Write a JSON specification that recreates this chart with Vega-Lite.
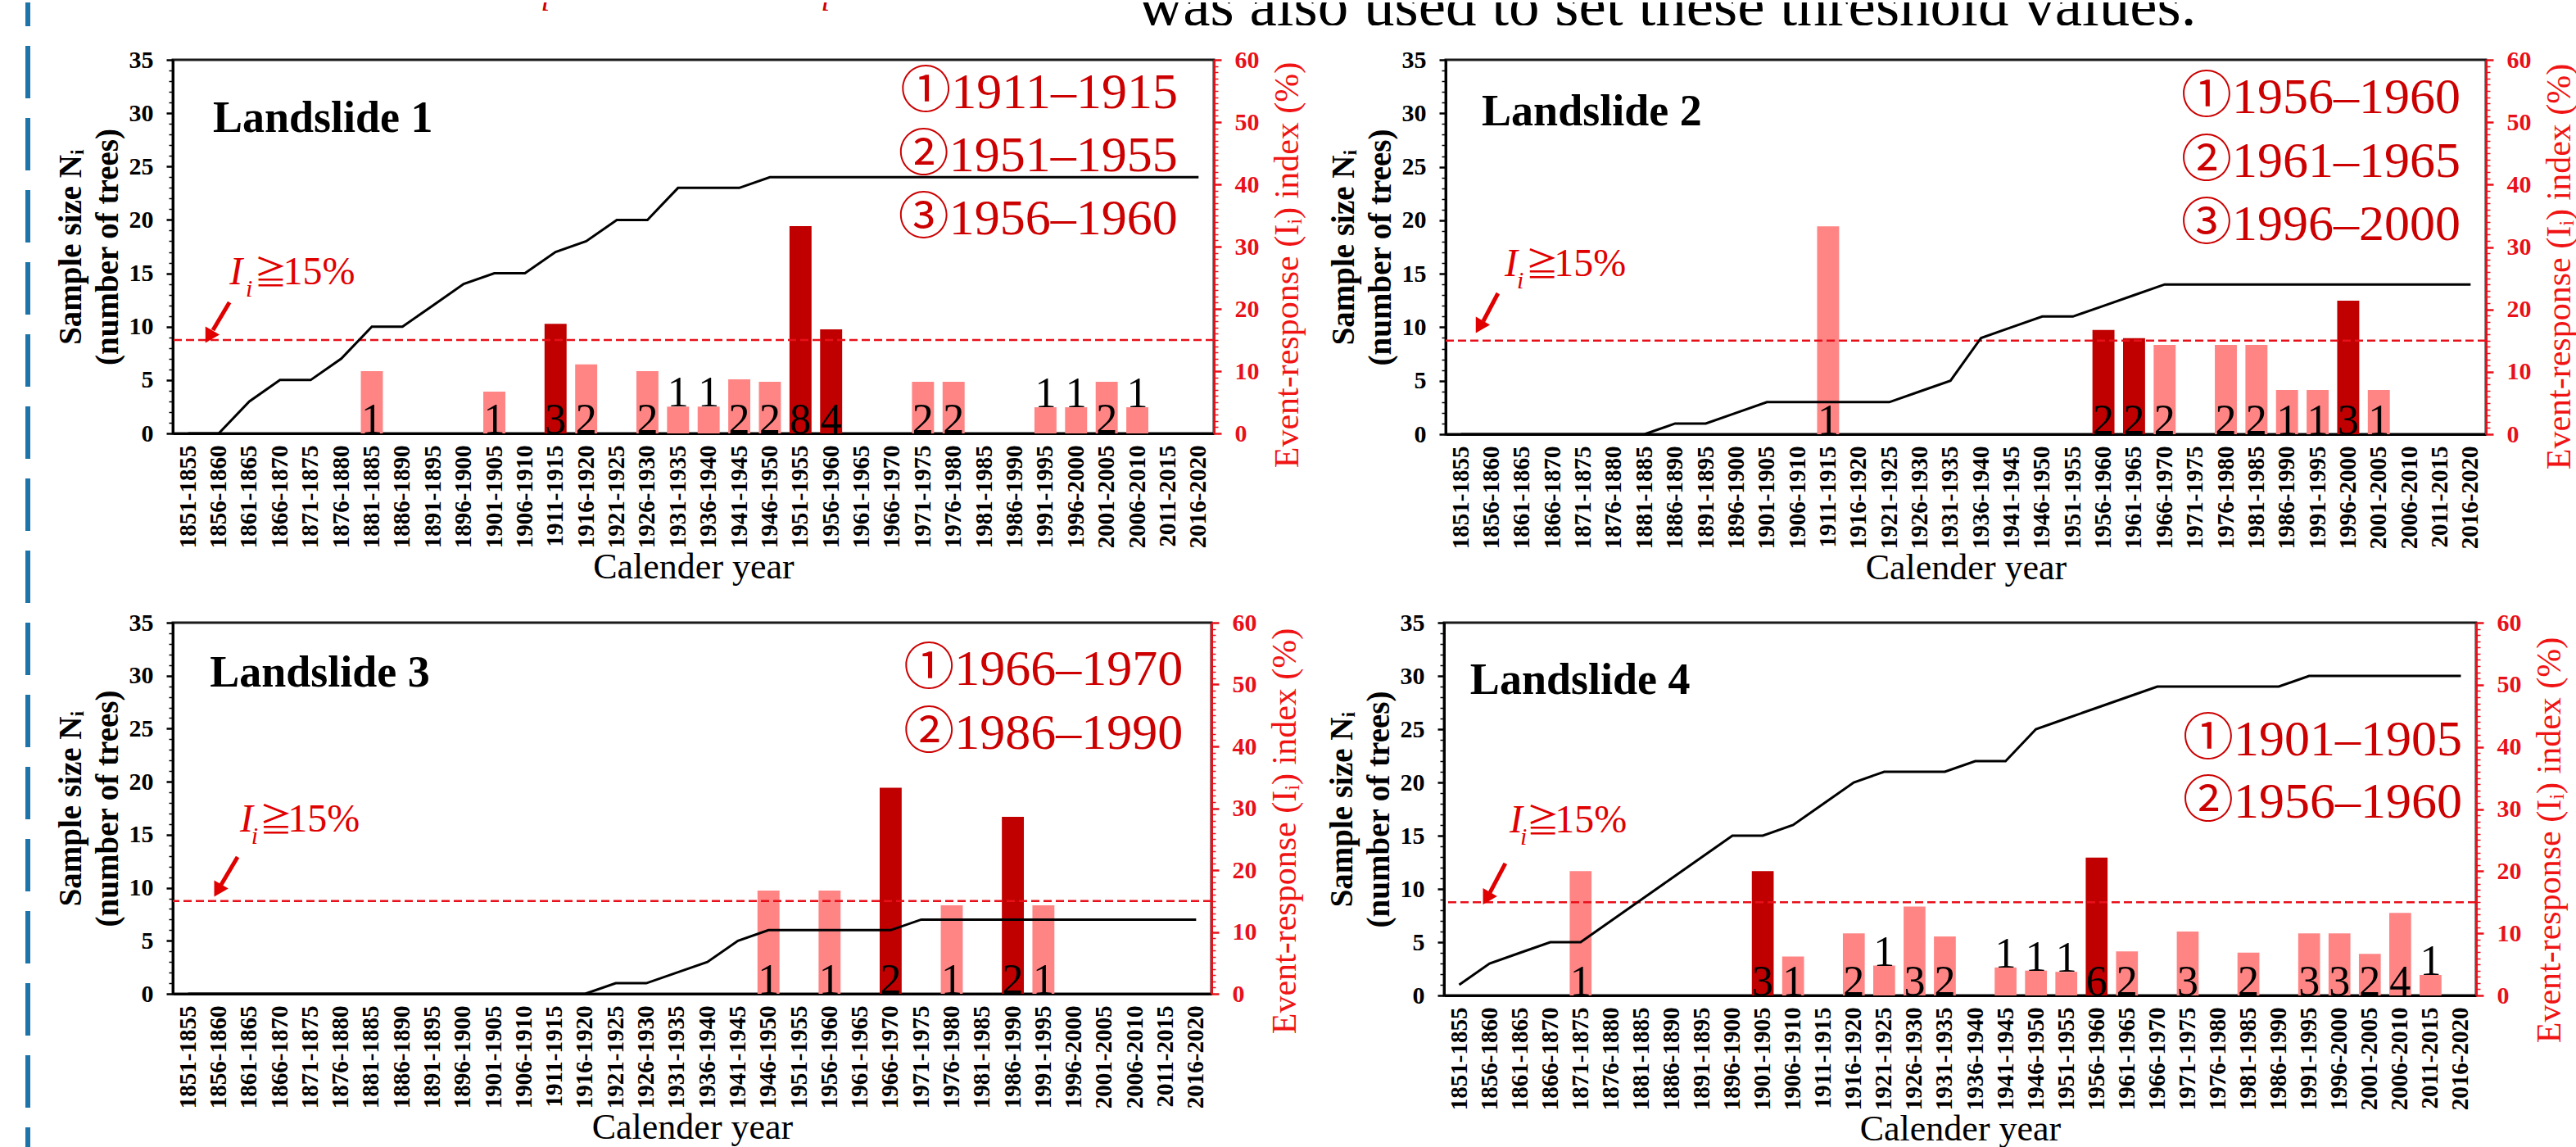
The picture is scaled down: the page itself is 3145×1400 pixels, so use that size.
{
  "$schema": "https://vega.github.io/schema/vega-lite/v6.json",
  "background": "white",
  "padding": {"left": 31, "top": 0, "right": 0, "bottom": 0},
  "config": {
    "font": "Liberation Serif",
    "view": {"stroke": "#1a1a1a", "strokeWidth": 3},
    "axis": {"grid": false, "labelFont": "Liberation Serif, DejaVu Serif", "titleFont": "Liberation Serif, DejaVu Serif"},
    "text": {"font": "Liberation Serif, DejaVu Serif"}
  },
  "datasets": {
    "bars1": [
      {"period":"1881-1885","ei":10.0,"count":1,"type":"other"},
      {"period":"1901-1905","ei":6.7,"count":1,"type":"other"},
      {"period":"1911-1915","ei":17.6,"count":3,"type":"event"},
      {"period":"1916-1920","ei":11.1,"count":2,"type":"other"},
      {"period":"1926-1930","ei":10.0,"count":2,"type":"other"},
      {"period":"1931-1935","ei":4.3,"count":1,"type":"other"},
      {"period":"1936-1940","ei":4.3,"count":1,"type":"other"},
      {"period":"1941-1945","ei":8.7,"count":2,"type":"other"},
      {"period":"1946-1950","ei":8.3,"count":2,"type":"other"},
      {"period":"1951-1955","ei":33.3,"count":8,"type":"event"},
      {"period":"1956-1960","ei":16.7,"count":4,"type":"event"},
      {"period":"1971-1975","ei":8.3,"count":2,"type":"other"},
      {"period":"1976-1980","ei":8.3,"count":2,"type":"other"},
      {"period":"1991-1995","ei":4.2,"count":1,"type":"other"},
      {"period":"1996-2000","ei":4.2,"count":1,"type":"other"},
      {"period":"2001-2005","ei":8.3,"count":2,"type":"other"},
      {"period":"2006-2010","ei":4.2,"count":1,"type":"other"}
    ],
    "bars2": [
      {"period":"1911-1915","ei":33.3,"count":1,"type":"other"},
      {"period":"1956-1960","ei":16.7,"count":2,"type":"event"},
      {"period":"1961-1965","ei":15.4,"count":2,"type":"event"},
      {"period":"1966-1970","ei":14.3,"count":2,"type":"other"},
      {"period":"1976-1980","ei":14.3,"count":2,"type":"other"},
      {"period":"1981-1985","ei":14.3,"count":2,"type":"other"},
      {"period":"1986-1990","ei":7.1,"count":1,"type":"other"},
      {"period":"1991-1995","ei":7.1,"count":1,"type":"other"},
      {"period":"1996-2000","ei":21.4,"count":3,"type":"event"},
      {"period":"2001-2005","ei":7.1,"count":1,"type":"other"}
    ],
    "bars3": [
      {"period":"1946-1950","ei":16.7,"count":1,"type":"other"},
      {"period":"1956-1960","ei":16.7,"count":1,"type":"other"},
      {"period":"1966-1970","ei":33.3,"count":2,"type":"event"},
      {"period":"1976-1980","ei":14.3,"count":1,"type":"other"},
      {"period":"1986-1990","ei":28.6,"count":2,"type":"event"},
      {"period":"1991-1995","ei":14.3,"count":1,"type":"other"}
    ],
    "bars4": [
      {"period":"1871-1875","ei":20.0,"count":1,"type":"other"},
      {"period":"1901-1905","ei":20.0,"count":3,"type":"event"},
      {"period":"1906-1910","ei":6.25,"count":1,"type":"other"},
      {"period":"1916-1920","ei":10.0,"count":2,"type":"other"},
      {"period":"1921-1925","ei":4.8,"count":1,"type":"other"},
      {"period":"1926-1930","ei":14.3,"count":3,"type":"other"},
      {"period":"1931-1935","ei":9.5,"count":2,"type":"other"},
      {"period":"1941-1945","ei":4.5,"count":1,"type":"other"},
      {"period":"1946-1950","ei":4.0,"count":1,"type":"other"},
      {"period":"1951-1955","ei":3.8,"count":1,"type":"other"},
      {"period":"1956-1960","ei":22.2,"count":6,"type":"event"},
      {"period":"1961-1965","ei":7.1,"count":2,"type":"other"},
      {"period":"1971-1975","ei":10.3,"count":3,"type":"other"},
      {"period":"1981-1985","ei":6.9,"count":2,"type":"other"},
      {"period":"1991-1995","ei":10.0,"count":3,"type":"other"},
      {"period":"1996-2000","ei":10.0,"count":3,"type":"other"},
      {"period":"2001-2005","ei":6.7,"count":2,"type":"other"},
      {"period":"2006-2010","ei":13.3,"count":4,"type":"other"},
      {"period":"2011-2015","ei":3.3,"count":1,"type":"other"}
    ],
    "line1": [
      {"period":"1851-1855","n":0},{"period":"1856-1860","n":0},{"period":"1861-1865","n":3},{"period":"1866-1870","n":5},{"period":"1871-1875","n":5},{"period":"1876-1880","n":7},{"period":"1881-1885","n":10},{"period":"1886-1890","n":10},{"period":"1891-1895","n":12},{"period":"1896-1900","n":14},{"period":"1901-1905","n":15},{"period":"1906-1910","n":15},{"period":"1911-1915","n":17},{"period":"1916-1920","n":18},{"period":"1921-1925","n":20},{"period":"1926-1930","n":20},{"period":"1931-1935","n":23},{"period":"1936-1940","n":23},{"period":"1941-1945","n":23},{"period":"1946-1950","n":24},{"period":"1951-1955","n":24},{"period":"1956-1960","n":24},{"period":"1961-1965","n":24},{"period":"1966-1970","n":24},{"period":"1971-1975","n":24},{"period":"1976-1980","n":24},{"period":"1981-1985","n":24},{"period":"1986-1990","n":24},{"period":"1991-1995","n":24},{"period":"1996-2000","n":24},{"period":"2001-2005","n":24},{"period":"2006-2010","n":24},{"period":"2011-2015","n":24},{"period":"2016-2020","n":24}
    ],
    "line2": [
      {"period":"1851-1855","n":0},{"period":"1856-1860","n":0},{"period":"1861-1865","n":0},{"period":"1866-1870","n":0},{"period":"1871-1875","n":0},{"period":"1876-1880","n":0},{"period":"1881-1885","n":0},{"period":"1886-1890","n":1},{"period":"1891-1895","n":1},{"period":"1896-1900","n":2},{"period":"1901-1905","n":3},{"period":"1906-1910","n":3},{"period":"1911-1915","n":3},{"period":"1916-1920","n":3},{"period":"1921-1925","n":3},{"period":"1926-1930","n":4},{"period":"1931-1935","n":5},{"period":"1936-1940","n":9},{"period":"1941-1945","n":10},{"period":"1946-1950","n":11},{"period":"1951-1955","n":11},{"period":"1956-1960","n":12},{"period":"1961-1965","n":13},{"period":"1966-1970","n":14},{"period":"1971-1975","n":14},{"period":"1976-1980","n":14},{"period":"1981-1985","n":14},{"period":"1986-1990","n":14},{"period":"1991-1995","n":14},{"period":"1996-2000","n":14},{"period":"2001-2005","n":14},{"period":"2006-2010","n":14},{"period":"2011-2015","n":14},{"period":"2016-2020","n":14}
    ],
    "line3": [
      {"period":"1851-1855","n":0},{"period":"1856-1860","n":0},{"period":"1861-1865","n":0},{"period":"1866-1870","n":0},{"period":"1871-1875","n":0},{"period":"1876-1880","n":0},{"period":"1881-1885","n":0},{"period":"1886-1890","n":0},{"period":"1891-1895","n":0},{"period":"1896-1900","n":0},{"period":"1901-1905","n":0},{"period":"1906-1910","n":0},{"period":"1911-1915","n":0},{"period":"1916-1920","n":0},{"period":"1921-1925","n":1},{"period":"1926-1930","n":1},{"period":"1931-1935","n":2},{"period":"1936-1940","n":3},{"period":"1941-1945","n":5},{"period":"1946-1950","n":6},{"period":"1951-1955","n":6},{"period":"1956-1960","n":6},{"period":"1961-1965","n":6},{"period":"1966-1970","n":6},{"period":"1971-1975","n":7},{"period":"1976-1980","n":7},{"period":"1981-1985","n":7},{"period":"1986-1990","n":7},{"period":"1991-1995","n":7},{"period":"1996-2000","n":7},{"period":"2001-2005","n":7},{"period":"2006-2010","n":7},{"period":"2011-2015","n":7},{"period":"2016-2020","n":7}
    ],
    "line4": [
      {"period":"1851-1855","n":1},{"period":"1856-1860","n":3},{"period":"1861-1865","n":4},{"period":"1866-1870","n":5},{"period":"1871-1875","n":5},{"period":"1876-1880","n":7},{"period":"1881-1885","n":9},{"period":"1886-1890","n":11},{"period":"1891-1895","n":13},{"period":"1896-1900","n":15},{"period":"1901-1905","n":15},{"period":"1906-1910","n":16},{"period":"1911-1915","n":18},{"period":"1916-1920","n":20},{"period":"1921-1925","n":21},{"period":"1926-1930","n":21},{"period":"1931-1935","n":21},{"period":"1936-1940","n":22},{"period":"1941-1945","n":22},{"period":"1946-1950","n":25},{"period":"1951-1955","n":26},{"period":"1956-1960","n":27},{"period":"1961-1965","n":28},{"period":"1966-1970","n":29},{"period":"1971-1975","n":29},{"period":"1976-1980","n":29},{"period":"1981-1985","n":29},{"period":"1986-1990","n":29},{"period":"1991-1995","n":30},{"period":"1996-2000","n":30},{"period":"2001-2005","n":30},{"period":"2006-2010","n":30},{"period":"2011-2015","n":30},{"period":"2016-2020","n":30}
    ],
    "ann1": [
      {"kind":"title","label":"Landslide 1","ax":1.31,"ay":28.24},
      {"kind":"period","label":"①1911–1915","ax":32.82,"ay":30.47},
      {"kind":"period","label":"②1951–1955","ax":32.82,"ay":24.56},
      {"kind":"period","label":"③1956–1960","ax":32.82,"ay":18.65},
      {"kind":"I","label":"I","ax":1.85,"ay":13.97},
      {"kind":"sub","label":"i","ax":2.38,"ay":12.82},
      {"kind":"ge","label":"≧","ax":2.66,"ay":13.97},
      {"kind":"pct","label":"15%","ax":3.60,"ay":13.97},
      {"kind":"arrow","ax":1.85,"ay":12.28,"ax2":1.31,"ay2":9.67},
      {"kind":"head","ax":1.18,"ay":9.06}
    ],
    "ann2": [
      {"kind":"title","label":"Landslide 2","ax":1.18,"ay":28.87},
      {"kind":"period","label":"①1956–1960","ax":33.17,"ay":30.02},
      {"kind":"period","label":"②1961–1965","ax":33.17,"ay":24.04},
      {"kind":"period","label":"③1996–2000","ax":33.17,"ay":18.15},
      {"kind":"I","label":"I","ax":1.93,"ay":14.78},
      {"kind":"sub","label":"i","ax":2.33,"ay":13.63},
      {"kind":"ge","label":"≧","ax":2.62,"ay":14.78},
      {"kind":"pct","label":"15%","ax":3.54,"ay":14.78},
      {"kind":"arrow","ax":1.71,"ay":13.17,"ax2":1.23,"ay2":10.57},
      {"kind":"head","ax":1.10,"ay":10.03}
    ],
    "ann3": [
      {"kind":"title","label":"Landslide 3","ax":1.21,"ay":28.98},
      {"kind":"period","label":"①1966–1970","ax":33.07,"ay":29.13},
      {"kind":"period","label":"②1986–1990","ax":33.07,"ay":23.11},
      {"kind":"I","label":"I","ax":2.20,"ay":15.30},
      {"kind":"sub","label":"i","ax":2.57,"ay":14.14},
      {"kind":"ge","label":"≧","ax":2.84,"ay":15.30},
      {"kind":"pct","label":"15%","ax":3.76,"ay":15.30},
      {"kind":"arrow","ax":2.12,"ay":12.9,"ax2":1.58,"ay2":10.28},
      {"kind":"head","ax":1.47,"ay":9.74}
    ],
    "ann4": [
      {"kind":"title","label":"Landslide 4","ax":0.86,"ay":28.33},
      {"kind":"period","label":"①1901–1905","ax":33.54,"ay":22.51},
      {"kind":"period","label":"②1956–1960","ax":33.54,"ay":16.69},
      {"kind":"I","label":"I","ax":2.16,"ay":15.31},
      {"kind":"sub","label":"i","ax":2.51,"ay":14.17},
      {"kind":"ge","label":"≧","ax":2.72,"ay":15.31},
      {"kind":"pct","label":"15%","ax":3.65,"ay":15.31},
      {"kind":"arrow","ax":2.02,"ay":12.4,"ax2":1.51,"ay2":9.65},
      {"kind":"head","ax":1.40,"ay":9.11}
    ],
    "toptext": [
      {"kind":"main","t":"was also used to set these threshold values.","f":0.4016,"fy":0},
      {"kind":"frag","t":"i","f":0.1530,"fy":0.64},
      {"kind":"frag","t":"i","f":0.2695,"fy":0.64}
    ]
  },
  "spacing": 28,
  "hconcat": [
    {
      "width": 6, "height": 1400,
      "view": {"stroke": null},
      "data": {"values": [{"v": 0}]},
      "mark": {"type": "rule", "color": "#1D74A8", "strokeWidth": 6, "strokeDash": [64, 24], "strokeDashOffset": 35},
      "encoding": {"x": {"field": "v", "type": "quantitative", "scale": {"domain": [-1, 1], "nice": false}, "axis": null}}
    },
    {
      "spacing": 25,
      "vconcat": [
        {
          "width": 2936, "height": 28,
          "view": {"stroke": null},
          "data": {"name": "toptext"},
          "encoding": {
            "x": {"field": "f", "type": "quantitative", "scale": {"domain": [0, 1], "nice": false}, "axis": null},
            "y": {"field": "fy", "type": "quantitative", "scale": {"domain": [0, 1], "nice": false}, "axis": null},
            "text": {"field": "t"}
          },
          "layer": [
            {"transform": [{"filter": "datum.kind === 'main'"}], "mark": {"type": "text", "align": "left", "baseline": "alphabetic", "fontSize": 75, "clip": true, "font": "Liberation Serif", "color": "black"}},
            {"transform": [{"filter": "datum.kind === 'frag'"}], "mark": {"type": "text", "align": "left", "baseline": "alphabetic", "fontSize": 40, "fontStyle": "italic", "clip": true, "font": "Liberation Serif", "color": "#D00000"}}
          ]
        },
        {
          "spacing": 25,
          "hconcat": [
            {
              "width": 1271, "height": 456,
              "layer": [
                {
                  "data": {"name": "bars1"},
                  "encoding": {"x": {"field": "period", "type": "ordinal", "scale": {"domain": ["1851-1855","1856-1860","1861-1865","1866-1870","1871-1875","1876-1880","1881-1885","1886-1890","1891-1895","1896-1900","1901-1905","1906-1910","1911-1915","1916-1920","1921-1925","1926-1930","1931-1935","1936-1940","1941-1945","1946-1950","1951-1955","1956-1960","1961-1965","1966-1970","1971-1975","1976-1980","1981-1985","1986-1990","1991-1995","1996-2000","2001-2005","2006-2010","2011-2015","2016-2020"], "paddingInner": 0.28, "paddingOuter": 0.14}, "axis": {"orient": "bottom", "title": "Calender year", "titleFontSize": 44, "titleFontWeight": "normal", "titleColor": "black", "titlePadding": 2, "labelAngle": 270, "labelFontSize": 29, "labelFontWeight": "bold", "labelColor": "black", "labelPadding": 14, "ticks": false, "tickSize": 0, "domainColor": "black", "domainWidth": 3, "labelOverlap": false}}},
                  "layer": [
                    {"mark": {"type": "bar"}, "encoding": {
                      "y": {"field": "ei", "type": "quantitative", "scale": {"domain": [0, 60], "nice": false}, "axis": {"orient": "right", "values": [0,10,20,30,40,50,60], "title": "Event-response (Iᵢ) index (%)", "titleAngle": 270, "titleBaseline": "top", "titleAlign": "center", "titleY": 250, "titleFontSize": 42, "titleFontWeight": "normal", "titleColor": "#F01414", "titlePadding": 14, "labelFontSize": 30, "labelFontWeight": "bold", "labelColor": "#E8101A", "labelPadding": 16, "tickSize": 9, "tickWidth": 2.5, "tickColor": "#E8101A", "domainColor": "#E8101A", "domainWidth": 3}},
                      "color": {"field": "type", "type": "nominal", "scale": {"domain": ["event", "other"], "range": ["#C00000", "#FF8585"]}, "legend": null}}},
                    {"transform": [{"filter": "datum.ei >= 6"}], "mark": {"type": "text", "baseline": "alphabetic", "fontSize": 52, "color": "black"}, "encoding": {"y": {"datum": 0}, "text": {"field": "count", "type": "nominal"}}},
                    {"transform": [{"filter": "datum.ei < 6"}], "mark": {"type": "text", "baseline": "alphabetic", "fontSize": 52, "color": "black"}, "encoding": {"y": {"field": "ei", "type": "quantitative"}, "text": {"field": "count", "type": "nominal"}}}
                  ]
                },
                {
                  "data": {"values": [{}]},
                  "mark": {"type": "rule", "color": "#E8101A", "strokeWidth": 2.5, "strokeDash": [10, 5]},
                  "encoding": {"y": {"datum": 15, "type": "quantitative", "scale": {"domain": [0, 60], "nice": false}, "axis": {"orient": "right", "values": [1,2,3,4,5,6,7,8,9,11,12,13,14,15,16,17,18,19,21,22,23,24,25,26,27,28,29,31,32,33,34,35,36,37,38,39,41,42,43,44,45,46,47,48,49,51,52,53,54,55,56,57,58,59], "labels": false, "title": null, "domain": false, "tickSize": 5, "tickWidth": 1.5, "tickColor": "#E8101A"}}}
                },
                {
                  "data": {"name": "line1"},
                  "mark": {"type": "line", "color": "black", "strokeWidth": 3},
                  "encoding": {"x": {"field": "period", "type": "ordinal", "axis": null}, "y": {"field": "n", "type": "quantitative", "scale": {"domain": [0, 35], "nice": false}, "axis": {"orient": "left", "values": [0,5,10,15,20,25,30,35], "title": ["Sample size Nᵢ", "(number of trees)"], "titleFontSize": 39, "titleFontWeight": "bold", "titleColor": "black", "titleLineHeight": 45, "titlePadding": 6, "labelFontSize": 30, "labelFontWeight": "bold", "labelColor": "black", "labelPadding": 16, "tickSize": 8, "tickWidth": 2.5, "tickColor": "black", "domainColor": "black", "domainWidth": 3}}}
                },
                {
                  "data": {"name": "ann1"},
                  "encoding": {
                    "x": {"field": "ax", "type": "quantitative", "scale": {"domain": [0, 34], "nice": false, "zero": false}, "axis": null},
                    "y": {"field": "ay", "type": "quantitative", "scale": {"domain": [0, 35], "nice": false}, "axis": {"orient": "left", "values": [1,2,3,4,6,7,8,9,11,12,13,14,16,17,18,19,21,22,23,24,26,27,28,29,31,32,33,34], "labels": false, "title": null, "domain": false, "tickSize": 5, "tickWidth": 1.5, "tickColor": "black"}}
                  },
                  "layer": [
                    {"transform": [{"filter": "datum.kind === 'title'"}], "mark": {"type": "text", "align": "left", "baseline": "alphabetic", "fontSize": 54, "fontWeight": "bold", "color": "black"}, "encoding": {"text": {"field": "label"}}},
                    {"transform": [{"filter": "datum.kind === 'period'"}], "mark": {"type": "text", "align": "right", "baseline": "alphabetic", "fontSize": 62, "font": "Liberation Serif, Noto Sans CJK JP", "color": "#CC0000"}, "encoding": {"text": {"field": "label"}}},
                    {"transform": [{"filter": "datum.kind === 'I'"}], "mark": {"type": "text", "align": "left", "baseline": "alphabetic", "fontSize": 48, "fontStyle": "italic", "color": "#E00000"}, "encoding": {"text": {"field": "label"}}},
                    {"transform": [{"filter": "datum.kind === 'sub'"}], "mark": {"type": "text", "align": "left", "baseline": "alphabetic", "fontSize": 30, "fontStyle": "italic", "color": "#E00000"}, "encoding": {"text": {"field": "label"}}},
                    {"transform": [{"filter": "datum.kind === 'ge'"}], "mark": {"type": "text", "align": "left", "baseline": "alphabetic", "fontSize": 40, "font": "DejaVu Serif, Noto Sans CJK JP", "color": "#E00000"}, "encoding": {"text": {"field": "label"}}},
                    {"transform": [{"filter": "datum.kind === 'pct'"}], "mark": {"type": "text", "align": "left", "baseline": "alphabetic", "fontSize": 48, "color": "#E00000"}, "encoding": {"text": {"field": "label"}}},
                    {"transform": [{"filter": "datum.kind === 'arrow'"}], "mark": {"type": "rule", "color": "#E00000", "strokeWidth": 5}, "encoding": {"x2": {"field": "ax2"}, "y2": {"field": "ay2"}}},
                    {"transform": [{"filter": "datum.kind === 'head'"}], "mark": {"type": "point", "shape": "triangle-down", "filled": true, "color": "#E00000", "size": 400, "angle": 30, "opacity": 1, "strokeWidth": 0}}
                  ]
                }
              ],
              "resolve": {"scale": {"x": "independent", "y": "independent"}}
            },
            {
              "width": 1270, "height": 457,
              "layer": [
                {
                  "data": {"name": "bars2"},
                  "encoding": {"x": {"field": "period", "type": "ordinal", "scale": {"domain": ["1851-1855","1856-1860","1861-1865","1866-1870","1871-1875","1876-1880","1881-1885","1886-1890","1891-1895","1896-1900","1901-1905","1906-1910","1911-1915","1916-1920","1921-1925","1926-1930","1931-1935","1936-1940","1941-1945","1946-1950","1951-1955","1956-1960","1961-1965","1966-1970","1971-1975","1976-1980","1981-1985","1986-1990","1991-1995","1996-2000","2001-2005","2006-2010","2011-2015","2016-2020"], "paddingInner": 0.28, "paddingOuter": 0.14}, "axis": {"orient": "bottom", "title": "Calender year", "titleFontSize": 44, "titleFontWeight": "normal", "titleColor": "black", "titlePadding": 2, "labelAngle": 270, "labelFontSize": 29, "labelFontWeight": "bold", "labelColor": "black", "labelPadding": 14, "ticks": false, "tickSize": 0, "domainColor": "black", "domainWidth": 3, "labelOverlap": false}}},
                  "layer": [
                    {"mark": {"type": "bar"}, "encoding": {
                      "y": {"field": "ei", "type": "quantitative", "scale": {"domain": [0, 60], "nice": false}, "axis": {"orient": "right", "values": [0,10,20,30,40,50,60], "title": "Event-response (Iᵢ) index (%)", "titleAngle": 270, "titleBaseline": "top", "titleAlign": "center", "titleY": 252, "titleFontSize": 42, "titleFontWeight": "normal", "titleColor": "#F01414", "titlePadding": 14, "labelFontSize": 30, "labelFontWeight": "bold", "labelColor": "#E8101A", "labelPadding": 16, "tickSize": 9, "tickWidth": 2.5, "tickColor": "#E8101A", "domainColor": "#E8101A", "domainWidth": 3}},
                      "color": {"field": "type", "type": "nominal", "scale": {"domain": ["event", "other"], "range": ["#C00000", "#FF9C9C"]}, "legend": null}}},
                    {"transform": [{"filter": "datum.ei >= 6"}], "mark": {"type": "text", "baseline": "alphabetic", "fontSize": 52, "color": "black"}, "encoding": {"y": {"datum": 0}, "text": {"field": "count", "type": "nominal"}}},
                    {"transform": [{"filter": "datum.ei < 6"}], "mark": {"type": "text", "baseline": "alphabetic", "fontSize": 52, "color": "black"}, "encoding": {"y": {"field": "ei", "type": "quantitative"}, "text": {"field": "count", "type": "nominal"}}}
                  ]
                },
                {
                  "data": {"values": [{}]},
                  "mark": {"type": "rule", "color": "#E8101A", "strokeWidth": 2.5, "strokeDash": [10, 5]},
                  "encoding": {"y": {"datum": 15, "type": "quantitative", "scale": {"domain": [0, 60], "nice": false}, "axis": {"orient": "right", "values": [1,2,3,4,5,6,7,8,9,11,12,13,14,15,16,17,18,19,21,22,23,24,25,26,27,28,29,31,32,33,34,35,36,37,38,39,41,42,43,44,45,46,47,48,49,51,52,53,54,55,56,57,58,59], "labels": false, "title": null, "domain": false, "tickSize": 5, "tickWidth": 1.5, "tickColor": "#E8101A"}}}
                },
                {
                  "data": {"name": "line2"},
                  "mark": {"type": "line", "color": "black", "strokeWidth": 3},
                  "encoding": {"x": {"field": "period", "type": "ordinal", "axis": null}, "y": {"field": "n", "type": "quantitative", "scale": {"domain": [0, 35], "nice": false}, "axis": {"orient": "left", "values": [0,5,10,15,20,25,30,35], "title": ["Sample size Nᵢ", "(number of trees)"], "titleFontSize": 39, "titleFontWeight": "bold", "titleColor": "black", "titleLineHeight": 45, "titlePadding": 6, "labelFontSize": 30, "labelFontWeight": "bold", "labelColor": "black", "labelPadding": 16, "tickSize": 8, "tickWidth": 2.5, "tickColor": "black", "domainColor": "black", "domainWidth": 3}}}
                },
                {
                  "data": {"name": "ann2"},
                  "encoding": {
                    "x": {"field": "ax", "type": "quantitative", "scale": {"domain": [0, 34], "nice": false, "zero": false}, "axis": null},
                    "y": {"field": "ay", "type": "quantitative", "scale": {"domain": [0, 35], "nice": false}, "axis": {"orient": "left", "values": [1,2,3,4,6,7,8,9,11,12,13,14,16,17,18,19,21,22,23,24,26,27,28,29,31,32,33,34], "labels": false, "title": null, "domain": false, "tickSize": 5, "tickWidth": 1.5, "tickColor": "black"}}
                  },
                  "layer": [
                    {"transform": [{"filter": "datum.kind === 'title'"}], "mark": {"type": "text", "align": "left", "baseline": "alphabetic", "fontSize": 54, "fontWeight": "bold", "color": "black"}, "encoding": {"text": {"field": "label"}}},
                    {"transform": [{"filter": "datum.kind === 'period'"}], "mark": {"type": "text", "align": "right", "baseline": "alphabetic", "fontSize": 62, "font": "Liberation Serif, Noto Sans CJK JP", "color": "#CC0000"}, "encoding": {"text": {"field": "label"}}},
                    {"transform": [{"filter": "datum.kind === 'I'"}], "mark": {"type": "text", "align": "left", "baseline": "alphabetic", "fontSize": 48, "fontStyle": "italic", "color": "#E00000"}, "encoding": {"text": {"field": "label"}}},
                    {"transform": [{"filter": "datum.kind === 'sub'"}], "mark": {"type": "text", "align": "left", "baseline": "alphabetic", "fontSize": 30, "fontStyle": "italic", "color": "#E00000"}, "encoding": {"text": {"field": "label"}}},
                    {"transform": [{"filter": "datum.kind === 'ge'"}], "mark": {"type": "text", "align": "left", "baseline": "alphabetic", "fontSize": 40, "font": "DejaVu Serif, Noto Sans CJK JP", "color": "#E00000"}, "encoding": {"text": {"field": "label"}}},
                    {"transform": [{"filter": "datum.kind === 'pct'"}], "mark": {"type": "text", "align": "left", "baseline": "alphabetic", "fontSize": 48, "color": "#E00000"}, "encoding": {"text": {"field": "label"}}},
                    {"transform": [{"filter": "datum.kind === 'arrow'"}], "mark": {"type": "rule", "color": "#E00000", "strokeWidth": 5}, "encoding": {"x2": {"field": "ax2"}, "y2": {"field": "ay2"}}},
                    {"transform": [{"filter": "datum.kind === 'head'"}], "mark": {"type": "point", "shape": "triangle-down", "filled": true, "color": "#E00000", "size": 400, "angle": 30, "opacity": 1, "strokeWidth": 0}}
                  ]
                }
              ],
              "resolve": {"scale": {"x": "independent", "y": "independent"}}
            }
          ]
        },
        {
          "spacing": 26,
          "hconcat": [
            {
              "width": 1268, "height": 453,
              "layer": [
                {
                  "data": {"name": "bars3"},
                  "encoding": {"x": {"field": "period", "type": "ordinal", "scale": {"domain": ["1851-1855","1856-1860","1861-1865","1866-1870","1871-1875","1876-1880","1881-1885","1886-1890","1891-1895","1896-1900","1901-1905","1906-1910","1911-1915","1916-1920","1921-1925","1926-1930","1931-1935","1936-1940","1941-1945","1946-1950","1951-1955","1956-1960","1961-1965","1966-1970","1971-1975","1976-1980","1981-1985","1986-1990","1991-1995","1996-2000","2001-2005","2006-2010","2011-2015","2016-2020"], "paddingInner": 0.28, "paddingOuter": 0.14}, "axis": {"orient": "bottom", "title": "Calender year", "titleFontSize": 44, "titleFontWeight": "normal", "titleColor": "black", "titlePadding": 2, "labelAngle": 270, "labelFontSize": 29, "labelFontWeight": "bold", "labelColor": "black", "labelPadding": 14, "ticks": false, "tickSize": 0, "domainColor": "black", "domainWidth": 3, "labelOverlap": false}}},
                  "layer": [
                    {"mark": {"type": "bar"}, "encoding": {
                      "y": {"field": "ei", "type": "quantitative", "scale": {"domain": [0, 60], "nice": false}, "axis": {"orient": "right", "values": [0,10,20,30,40,50,60], "title": "Event-response (Iᵢ) index (%)", "titleAngle": 270, "titleBaseline": "top", "titleAlign": "center", "titleY": 254, "titleFontSize": 42, "titleFontWeight": "normal", "titleColor": "#F01414", "titlePadding": 14, "labelFontSize": 30, "labelFontWeight": "bold", "labelColor": "#E8101A", "labelPadding": 16, "tickSize": 9, "tickWidth": 2.5, "tickColor": "#E8101A", "domainColor": "#E8101A", "domainWidth": 3}},
                      "color": {"field": "type", "type": "nominal", "scale": {"domain": ["event", "other"], "range": ["#C00000", "#FF9C9C"]}, "legend": null}}},
                    {"transform": [{"filter": "datum.ei >= 6"}], "mark": {"type": "text", "baseline": "alphabetic", "fontSize": 52, "color": "black"}, "encoding": {"y": {"datum": 0}, "text": {"field": "count", "type": "nominal"}}},
                    {"transform": [{"filter": "datum.ei < 6"}], "mark": {"type": "text", "baseline": "alphabetic", "fontSize": 52, "color": "black"}, "encoding": {"y": {"field": "ei", "type": "quantitative"}, "text": {"field": "count", "type": "nominal"}}}
                  ]
                },
                {
                  "data": {"values": [{}]},
                  "mark": {"type": "rule", "color": "#E8101A", "strokeWidth": 2.5, "strokeDash": [10, 5]},
                  "encoding": {"y": {"datum": 15, "type": "quantitative", "scale": {"domain": [0, 60], "nice": false}, "axis": {"orient": "right", "values": [1,2,3,4,5,6,7,8,9,11,12,13,14,15,16,17,18,19,21,22,23,24,25,26,27,28,29,31,32,33,34,35,36,37,38,39,41,42,43,44,45,46,47,48,49,51,52,53,54,55,56,57,58,59], "labels": false, "title": null, "domain": false, "tickSize": 5, "tickWidth": 1.5, "tickColor": "#E8101A"}}}
                },
                {
                  "data": {"name": "line3"},
                  "mark": {"type": "line", "color": "black", "strokeWidth": 3},
                  "encoding": {"x": {"field": "period", "type": "ordinal", "axis": null}, "y": {"field": "n", "type": "quantitative", "scale": {"domain": [0, 35], "nice": false}, "axis": {"orient": "left", "values": [0,5,10,15,20,25,30,35], "title": ["Sample size Nᵢ", "(number of trees)"], "titleFontSize": 39, "titleFontWeight": "bold", "titleColor": "black", "titleLineHeight": 45, "titlePadding": 6, "labelFontSize": 30, "labelFontWeight": "bold", "labelColor": "black", "labelPadding": 16, "tickSize": 8, "tickWidth": 2.5, "tickColor": "black", "domainColor": "black", "domainWidth": 3}}}
                },
                {
                  "data": {"name": "ann3"},
                  "encoding": {
                    "x": {"field": "ax", "type": "quantitative", "scale": {"domain": [0, 34], "nice": false, "zero": false}, "axis": null},
                    "y": {"field": "ay", "type": "quantitative", "scale": {"domain": [0, 35], "nice": false}, "axis": {"orient": "left", "values": [1,2,3,4,6,7,8,9,11,12,13,14,16,17,18,19,21,22,23,24,26,27,28,29,31,32,33,34], "labels": false, "title": null, "domain": false, "tickSize": 5, "tickWidth": 1.5, "tickColor": "black"}}
                  },
                  "layer": [
                    {"transform": [{"filter": "datum.kind === 'title'"}], "mark": {"type": "text", "align": "left", "baseline": "alphabetic", "fontSize": 54, "fontWeight": "bold", "color": "black"}, "encoding": {"text": {"field": "label"}}},
                    {"transform": [{"filter": "datum.kind === 'period'"}], "mark": {"type": "text", "align": "right", "baseline": "alphabetic", "fontSize": 62, "font": "Liberation Serif, Noto Sans CJK JP", "color": "#CC0000"}, "encoding": {"text": {"field": "label"}}},
                    {"transform": [{"filter": "datum.kind === 'I'"}], "mark": {"type": "text", "align": "left", "baseline": "alphabetic", "fontSize": 48, "fontStyle": "italic", "color": "#E00000"}, "encoding": {"text": {"field": "label"}}},
                    {"transform": [{"filter": "datum.kind === 'sub'"}], "mark": {"type": "text", "align": "left", "baseline": "alphabetic", "fontSize": 30, "fontStyle": "italic", "color": "#E00000"}, "encoding": {"text": {"field": "label"}}},
                    {"transform": [{"filter": "datum.kind === 'ge'"}], "mark": {"type": "text", "align": "left", "baseline": "alphabetic", "fontSize": 40, "font": "DejaVu Serif, Noto Sans CJK JP", "color": "#E00000"}, "encoding": {"text": {"field": "label"}}},
                    {"transform": [{"filter": "datum.kind === 'pct'"}], "mark": {"type": "text", "align": "left", "baseline": "alphabetic", "fontSize": 48, "color": "#E00000"}, "encoding": {"text": {"field": "label"}}},
                    {"transform": [{"filter": "datum.kind === 'arrow'"}], "mark": {"type": "rule", "color": "#E00000", "strokeWidth": 5}, "encoding": {"x2": {"field": "ax2"}, "y2": {"field": "ay2"}}},
                    {"transform": [{"filter": "datum.kind === 'head'"}], "mark": {"type": "point", "shape": "triangle-down", "filled": true, "color": "#E00000", "size": 400, "angle": 30, "opacity": 1, "strokeWidth": 0}}
                  ]
                }
              ],
              "resolve": {"scale": {"x": "independent", "y": "independent"}}
            },
            {
              "width": 1260, "height": 455,
              "layer": [
                {
                  "data": {"name": "bars4"},
                  "encoding": {"x": {"field": "period", "type": "ordinal", "scale": {"domain": ["1851-1855","1856-1860","1861-1865","1866-1870","1871-1875","1876-1880","1881-1885","1886-1890","1891-1895","1896-1900","1901-1905","1906-1910","1911-1915","1916-1920","1921-1925","1926-1930","1931-1935","1936-1940","1941-1945","1946-1950","1951-1955","1956-1960","1961-1965","1966-1970","1971-1975","1976-1980","1981-1985","1986-1990","1991-1995","1996-2000","2001-2005","2006-2010","2011-2015","2016-2020"], "paddingInner": 0.28, "paddingOuter": 0.14}, "axis": {"orient": "bottom", "title": "Calender year", "titleFontSize": 44, "titleFontWeight": "normal", "titleColor": "black", "titlePadding": 2, "labelAngle": 270, "labelFontSize": 29, "labelFontWeight": "bold", "labelColor": "black", "labelPadding": 14, "ticks": false, "tickSize": 0, "domainColor": "black", "domainWidth": 3, "labelOverlap": false}}},
                  "layer": [
                    {"mark": {"type": "bar"}, "encoding": {
                      "y": {"field": "ei", "type": "quantitative", "scale": {"domain": [0, 60], "nice": false}, "axis": {"orient": "right", "values": [0,10,20,30,40,50,60], "title": "Event-response (Iᵢ) index (%)", "titleAngle": 270, "titleBaseline": "top", "titleAlign": "center", "titleY": 265, "titleFontSize": 42, "titleFontWeight": "normal", "titleColor": "#F01414", "titlePadding": 14, "labelFontSize": 30, "labelFontWeight": "bold", "labelColor": "#E8101A", "labelPadding": 16, "tickSize": 9, "tickWidth": 2.5, "tickColor": "#E8101A", "domainColor": "#E8101A", "domainWidth": 3}},
                      "color": {"field": "type", "type": "nominal", "scale": {"domain": ["event", "other"], "range": ["#C00000", "#FF9C9C"]}, "legend": null}}},
                    {"transform": [{"filter": "datum.ei >= 6"}], "mark": {"type": "text", "baseline": "alphabetic", "fontSize": 52, "color": "black"}, "encoding": {"y": {"datum": 0}, "text": {"field": "count", "type": "nominal"}}},
                    {"transform": [{"filter": "datum.ei < 6"}], "mark": {"type": "text", "baseline": "alphabetic", "fontSize": 52, "color": "black"}, "encoding": {"y": {"field": "ei", "type": "quantitative"}, "text": {"field": "count", "type": "nominal"}}}
                  ]
                },
                {
                  "data": {"values": [{}]},
                  "mark": {"type": "rule", "color": "#E8101A", "strokeWidth": 2.5, "strokeDash": [10, 5]},
                  "encoding": {"y": {"datum": 15, "type": "quantitative", "scale": {"domain": [0, 60], "nice": false}, "axis": {"orient": "right", "values": [1,2,3,4,5,6,7,8,9,11,12,13,14,15,16,17,18,19,21,22,23,24,25,26,27,28,29,31,32,33,34,35,36,37,38,39,41,42,43,44,45,46,47,48,49,51,52,53,54,55,56,57,58,59], "labels": false, "title": null, "domain": false, "tickSize": 5, "tickWidth": 1.5, "tickColor": "#E8101A"}}}
                },
                {
                  "data": {"name": "line4"},
                  "mark": {"type": "line", "color": "black", "strokeWidth": 3},
                  "encoding": {"x": {"field": "period", "type": "ordinal", "axis": null}, "y": {"field": "n", "type": "quantitative", "scale": {"domain": [0, 35], "nice": false}, "axis": {"orient": "left", "values": [0,5,10,15,20,25,30,35], "title": ["Sample size Nᵢ", "(number of trees)"], "titleFontSize": 39, "titleFontWeight": "bold", "titleColor": "black", "titleLineHeight": 45, "titlePadding": 6, "labelFontSize": 30, "labelFontWeight": "bold", "labelColor": "black", "labelPadding": 16, "tickSize": 8, "tickWidth": 2.5, "tickColor": "black", "domainColor": "black", "domainWidth": 3}}}
                },
                {
                  "data": {"name": "ann4"},
                  "encoding": {
                    "x": {"field": "ax", "type": "quantitative", "scale": {"domain": [0, 34], "nice": false, "zero": false}, "axis": null},
                    "y": {"field": "ay", "type": "quantitative", "scale": {"domain": [0, 35], "nice": false}, "axis": {"orient": "left", "values": [1,2,3,4,6,7,8,9,11,12,13,14,16,17,18,19,21,22,23,24,26,27,28,29,31,32,33,34], "labels": false, "title": null, "domain": false, "tickSize": 5, "tickWidth": 1.5, "tickColor": "black"}}
                  },
                  "layer": [
                    {"transform": [{"filter": "datum.kind === 'title'"}], "mark": {"type": "text", "align": "left", "baseline": "alphabetic", "fontSize": 54, "fontWeight": "bold", "color": "black"}, "encoding": {"text": {"field": "label"}}},
                    {"transform": [{"filter": "datum.kind === 'period'"}], "mark": {"type": "text", "align": "right", "baseline": "alphabetic", "fontSize": 62, "font": "Liberation Serif, Noto Sans CJK JP", "color": "#CC0000"}, "encoding": {"text": {"field": "label"}}},
                    {"transform": [{"filter": "datum.kind === 'I'"}], "mark": {"type": "text", "align": "left", "baseline": "alphabetic", "fontSize": 48, "fontStyle": "italic", "color": "#E00000"}, "encoding": {"text": {"field": "label"}}},
                    {"transform": [{"filter": "datum.kind === 'sub'"}], "mark": {"type": "text", "align": "left", "baseline": "alphabetic", "fontSize": 30, "fontStyle": "italic", "color": "#E00000"}, "encoding": {"text": {"field": "label"}}},
                    {"transform": [{"filter": "datum.kind === 'ge'"}], "mark": {"type": "text", "align": "left", "baseline": "alphabetic", "fontSize": 40, "font": "DejaVu Serif, Noto Sans CJK JP", "color": "#E00000"}, "encoding": {"text": {"field": "label"}}},
                    {"transform": [{"filter": "datum.kind === 'pct'"}], "mark": {"type": "text", "align": "left", "baseline": "alphabetic", "fontSize": 48, "color": "#E00000"}, "encoding": {"text": {"field": "label"}}},
                    {"transform": [{"filter": "datum.kind === 'arrow'"}], "mark": {"type": "rule", "color": "#E00000", "strokeWidth": 5}, "encoding": {"x2": {"field": "ax2"}, "y2": {"field": "ay2"}}},
                    {"transform": [{"filter": "datum.kind === 'head'"}], "mark": {"type": "point", "shape": "triangle-down", "filled": true, "color": "#E00000", "size": 400, "angle": 30, "opacity": 1, "strokeWidth": 0}}
                  ]
                }
              ],
              "resolve": {"scale": {"x": "independent", "y": "independent"}}
            }
          ]
        }
      ]
    }
  ]
}
